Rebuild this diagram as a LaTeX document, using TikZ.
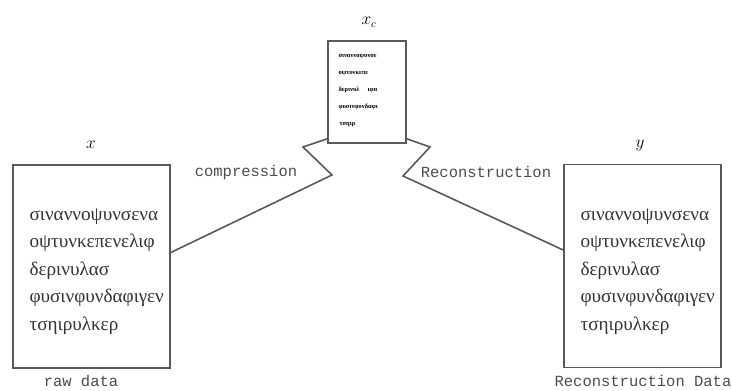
\documentclass[tikz,border=0pt]{standalone}
\usepackage{fontspec}
\setmainfont{Liberation Serif}
\setmonofont{Liberation Mono}
\usetikzlibrary{positioning}

\tikzset{
  databox/.style={draw=black!65, line width=1.6pt, minimum width=157pt, minimum height=203pt, inner sep=0pt},
  codebox/.style={draw=black!65, line width=1.6pt, minimum width=78pt, minimum height=102pt, inner sep=0pt},
  greek/.style={text=black!80, font=\fontsize{19.2}{27.5}\selectfont, align=left},
  tinytext/.style={text=black, font=\bfseries\fontsize{6.5}{17}\selectfont, align=left},
  tlabel/.style={text=black!70, font=\ttfamily\fontsize{15.5}{16}\selectfont},
  link/.style={draw=black!65, line width=1.6pt}
}

\begin{document}
\begin{tikzpicture}[x=1pt,y=1pt]
  \useasboundingbox (0,0) rectangle (732,391);

  % boxes
  \node[databox] (raw) at (91.5,124.5) {};
  \node[databox] (rec) at (642.5,125) {};
  \node[codebox] (comp) at (367,299) {};

  \node[greek, anchor=north west] (rawtext) at (26,186)
    {σιναννοψυνσενα\\οψτυνκεπενελιφ\\δερινυλασ\\φυσινφυνδαφιγεν\\τσηιρυλκερ};
  \node[greek, anchor=north west] (rectext) at (577,186)
    {σιναννοψυνσενα\\οψτυνκεπενελιφ\\δερινυλασ\\φυσινφυνδαφιγεν\\τσηιρυλκερ};
  \node[tinytext, anchor=north west] (comptext) at (335,341)
    {σιναννοψυνσε\\οψτυνκεπε\\δερινυλ\hspace{8pt}ιφα\\φυσινφυνδαφι\\ \,τσηιρ};

  % labels
  \node (xlab) at (91,246) {\fontsize{16}{16}\selectfont$x$};
  \node (ylab) at (640,246) {\fontsize{16}{16}\selectfont$y$};
  \node (xclab) at (369,369) {\fontsize{16}{16}\selectfont$x_c$};
  \node[tlabel] (comprlab) at (246,219) {compression};
  \node[tlabel] (reclab) at (486,219) {Reconstruction};
  \node[tlabel, anchor=base] (rawlab) at (81,4) {raw data};
  \node[tlabel, anchor=base] (recdlab) at (643,4) {Reconstruction Data};

  % zigzag connectors
  \coordinate (lz1) at (303,244);
  \coordinate (lz2) at (332,216);
  \coordinate (rz1) at (430,244);
  \coordinate (rz2) at (403,215);
  \draw[link, line join=miter] ([yshift=5pt]comp.south west) -- (lz1) -- (lz2) -- ([yshift=14pt]raw.east);
  \draw[link, line join=miter] ([yshift=5pt]comp.south east) -- (rz1) -- (rz2) -- ([yshift=16pt]rec.west);
\end{tikzpicture}
\end{document}
